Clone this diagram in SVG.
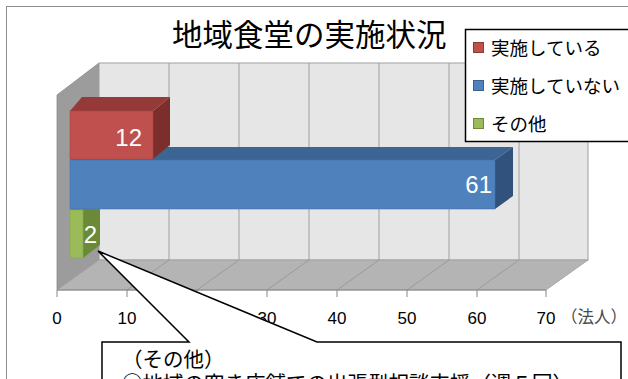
<svg xmlns="http://www.w3.org/2000/svg" width="628" height="379" viewBox="0 0 628 379">
<style>
.jp{font-family:"Noto Sans CJK JP","Noto Sans",sans-serif;fill:#000}
.num{font-family:"Liberation Sans",Arial,sans-serif;font-size:17px;fill:#000;text-anchor:middle}
.val{font-family:"Liberation Sans",Arial,sans-serif;font-size:24px;fill:#fff;text-anchor:end}
.grid{stroke:#a0a0a0;stroke-width:1;fill:none}
.tick{stroke:#888;stroke-width:1}
</style>
<rect x="0" y="0" width="628" height="379" fill="#fff"/>
<rect x="6.5" y="6.5" width="640" height="400" fill="#fff" stroke="#8c8c8c" stroke-width="1"/>
<g id="title"><text class="jp" x="172" y="46" font-size="30.5">地域食堂の実施状況</text></g>
<g id="plot">
<polygon points="57,95 99,63 99,260 57,290" fill="#9c9c9c" stroke="#8a8a8a" stroke-width="0.8"/>
<rect x="99" y="63" width="489" height="197" fill="#e6e6e6" stroke="#a0a0a0" stroke-width="1"/>
<polygon points="57,290 99,260 588,260 546,290" fill="#b4b4b4" stroke="#a0a0a0" stroke-width="0.8"/>
<g class="grid">
<path d="M169,63V260M239,63V260M309,63V260M379,63V260M449,63V260M519,63V260"/>
<path d="M169,260L127,290M239,260L197,290M309,260L267,290M379,260L337,290M449,260L407,290M519,260L477,290" stroke="#9a9a9a"/>
</g>
<path class="tick" d="M57,290H546M57,290v7M127,290v7M197,290v7M267,290v7M337,290v7M407,290v7M477,290v7M546,290v7"/>
<text class="num" x="57" y="324">0</text>
<text class="num" x="127" y="324">10</text>
<text class="num" x="197" y="324">20</text>
<text class="num" x="267" y="324">30</text>
<text class="num" x="337" y="324">40</text>
<text class="num" x="407" y="324">50</text>
<text class="num" x="477" y="324">60</text>
<text class="num" x="546" y="324">70</text>
<text class="jp" x="561" y="323" font-size="16.5" style="fill:#4a4a4a">（法人）</text>
</g>
<g id="bar-other">
<polygon points="70,210 82,197 100,197 83,210" fill="#7e9b45"/>
<polygon points="83,210 100,197 100,245 83,258" fill="#6b8a38"/>
<rect x="70" y="210" width="13" height="48" fill="#9bbb59" stroke="#87a84a" stroke-width="0.6"/>
<text class="val" x="97" y="243">2</text>
</g>
<g id="bar-no">
<polygon points="70,160 82,147 513,147 495,160" fill="#3d6594"/>
<polygon points="495,160 513,147 513,196 495,209" fill="#30527c"/>
<rect x="70" y="160" width="425" height="49" fill="#4f81bd" stroke="#4372aa" stroke-width="0.6"/>
<text class="val" x="492" y="193">61</text>
</g>
<g id="bar-yes">
<polygon points="70,111 82,97 170,97 153,111" fill="#953a38"/>
<polygon points="153,111 170,97 170,145 153,159" fill="#7c2e2c"/>
<rect x="70" y="111" width="83" height="48" fill="#c0504d" stroke="#a94643" stroke-width="0.6"/>
<text class="val" x="142" y="146">12</text>
</g>
<g id="legend">
<rect x="465.5" y="29.5" width="180" height="112" fill="#fff" stroke="#000" stroke-width="1.5"/>
<rect x="473.5" y="42.5" width="10" height="10" fill="#c0504d" stroke="#8c3a38" stroke-width="1"/>
<text class="jp" x="491" y="55" font-size="18.5">実施している</text>
<rect x="473.5" y="80.5" width="10" height="10" fill="#4f81bd" stroke="#3a6090" stroke-width="1"/>
<text class="jp" x="491" y="93" font-size="18.5">実施していない</text>
<rect x="473.5" y="118.5" width="10" height="10" fill="#9bbb59" stroke="#71893f" stroke-width="1"/>
<text class="jp" x="491" y="131" font-size="18.5">その他</text>
</g>
<g id="callout">
<path d="M102,390 V342 H189 L98,251 L317,342 H621 V390" fill="#fff" stroke="#000" stroke-width="1.5" stroke-linejoin="miter"/>
<text class="jp" x="122" y="366.5" font-size="20.5">（その他）</text>
<text class="jp" x="122" y="391" font-size="20.5">○地域の空き店舗での出張型相談支援（週５回）</text>
</g>
</svg>
